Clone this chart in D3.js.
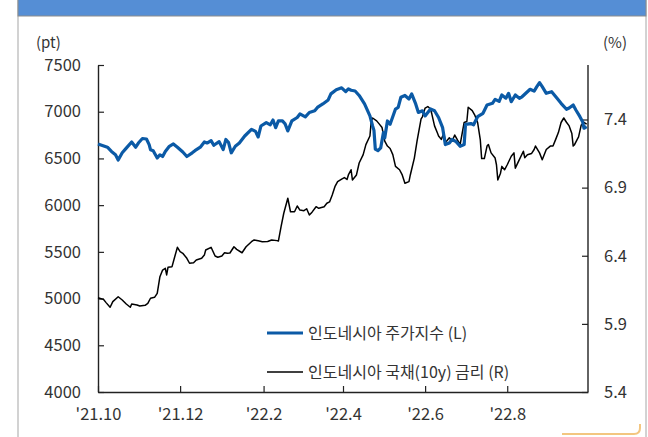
<!DOCTYPE html>
<html>
<head>
<meta charset="utf-8">
<script src="https://cdn.jsdelivr.net/npm/d3@7"></script>
<style>
  body { margin: 0; background: #fff; }
  svg { display: block; }
  text { font-family: "Noto Sans CJK KR", "Noto Sans", sans-serif; fill: #333; }
</style>
</head>
<body>
<div id="chart"></div>
<script>
// 인도네시아 주가지수 (L)
const stockDates = ["2021-10-01","2021-10-08","2021-10-11","2021-10-14","2021-10-16","2021-10-19","2021-10-22","2021-10-26","2021-10-29","2021-10-31",
  "2021-11-03","2021-11-06","2021-11-08","2021-11-09","2021-11-11","2021-11-14","2021-11-16","2021-11-18","2021-11-20","2021-11-23","2021-11-26","2021-11-29",
  "2021-12-03","2021-12-06","2021-12-10","2021-12-12","2021-12-16","2021-12-19","2021-12-21","2021-12-24","2021-12-26","2021-12-30",
  "2022-01-02","2022-01-04","2022-01-06","2022-01-08","2022-01-11","2022-01-14","2022-01-18","2022-01-23","2022-01-26","2022-01-28","2022-01-30",
  "2022-02-03","2022-02-06","2022-02-08","2022-02-10","2022-02-12","2022-02-15","2022-02-17","2022-02-19","2022-02-22","2022-02-26","2022-02-28",
  "2022-03-04","2022-03-07","2022-03-11","2022-03-13","2022-03-17","2022-03-21","2022-03-23","2022-03-27","2022-03-31",
  "2022-04-03","2022-04-05","2022-04-07","2022-04-10","2022-04-13","2022-04-17","2022-04-21","2022-04-23","2022-04-24","2022-04-25","2022-04-27","2022-04-29",
  "2022-05-01","2022-05-02","2022-05-04","2022-05-06","2022-05-10","2022-05-12","2022-05-14","2022-05-17","2022-05-20","2022-05-22","2022-05-25","2022-05-27","2022-05-30",
  "2022-06-01","2022-06-05","2022-06-08","2022-06-11","2022-06-14","2022-06-16","2022-06-19","2022-06-21","2022-06-24","2022-06-27","2022-06-30",
  "2022-07-01","2022-07-05","2022-07-07","2022-07-10","2022-07-14","2022-07-17","2022-07-21","2022-07-23","2022-07-26","2022-07-28","2022-07-31",
  "2022-08-02","2022-08-04","2022-08-07","2022-08-10","2022-08-12","2022-08-16","2022-08-18","2022-08-21","2022-08-23","2022-08-25","2022-08-27","2022-08-30",
  "2022-09-03","2022-09-07","2022-09-10","2022-09-14","2022-09-16","2022-09-19","2022-09-21","2022-09-24","2022-09-26","2022-09-27","2022-09-29"];
const stockValues = [6655,6620,6575,6540,6483,6560,6610,6676,6620,6665,
  6713,6708,6648,6594,6583,6505,6539,6521,6575,6630,6655,6620,
  6569,6521,6560,6583,6620,6676,6665,6691,6641,6680,
  6594,6703,6670,6560,6630,6665,6740,6811,6790,6730,6847,
  6884,6860,6911,6829,6901,6901,6870,6794,6901,6938,6976,
  6945,6992,7010,7046,7083,7126,7191,7235,7256,
  7215,7245,7230,7222,7174,7083,6955,6847,6800,6600,6583,6612,
  6775,6720,6901,6865,7029,7046,7155,7174,7136,7191,7083,6992,7010,
  6955,7029,7010,6938,6829,6648,6665,6703,6680,6630,6648,
  6865,6873,6860,6947,6983,7072,7090,7133,7110,7179,7145,
  7197,7107,7179,7143,7160,7214,7240,7220,7268,7311,7268,7197,
  7214,7143,7090,7026,7040,7072,7018,6947,6893,6823,6840];

// 인도네시아 국채(10y) 금리 (R)
const yieldDates = ["2021-10-01","2021-10-05","2021-10-07","2021-10-10","2021-10-12","2021-10-16","2021-10-19","2021-10-22","2021-10-25","2021-10-26","2021-10-30",
  "2021-11-01","2021-11-05","2021-11-07","2021-11-09","2021-11-12","2021-11-14","2021-11-16","2021-11-18","2021-11-20","2021-11-21","2021-11-22","2021-11-25","2021-11-27","2021-11-29",
  "2021-12-01","2021-12-03","2021-12-06","2021-12-08","2021-12-11","2021-12-13","2021-12-17","2021-12-19","2021-12-20","2021-12-24","2021-12-27","2021-12-29",
  "2022-01-01","2022-01-03","2022-01-05","2022-01-07","2022-01-10","2022-01-12","2022-01-16","2022-01-19","2022-01-23","2022-01-25","2022-01-28","2022-01-31",
  "2022-02-04","2022-02-07","2022-02-11","2022-02-12","2022-02-14","2022-02-16","2022-02-19","2022-02-21","2022-02-24","2022-02-26","2022-02-28",
  "2022-03-03","2022-03-05","2022-03-07","2022-03-09","2022-03-12","2022-03-14","2022-03-18","2022-03-20","2022-03-22","2022-03-24","2022-03-26","2022-03-28","2022-03-31",
  "2022-04-02","2022-04-04","2022-04-05","2022-04-07","2022-04-08","2022-04-11","2022-04-13","2022-04-16","2022-04-18","2022-04-21","2022-04-22","2022-04-23","2022-04-26","2022-04-28","2022-04-30",
  "2022-05-02","2022-05-04","2022-05-06","2022-05-08","2022-05-10","2022-05-13","2022-05-15","2022-05-17","2022-05-20","2022-05-21","2022-05-24","2022-05-26","2022-05-29","2022-05-30",
  "2022-06-01","2022-06-03","2022-06-05","2022-06-06","2022-06-08","2022-06-10","2022-06-11","2022-06-13","2022-06-15","2022-06-16","2022-06-19","2022-06-21","2022-06-23","2022-06-25","2022-06-27","2022-06-30",
  "2022-07-02","2022-07-03","2022-07-06","2022-07-08","2022-07-10","2022-07-12","2022-07-13","2022-07-15","2022-07-17","2022-07-18","2022-07-20","2022-07-23","2022-07-24","2022-07-25","2022-07-27","2022-07-28","2022-07-30",
  "2022-08-01","2022-08-04","2022-08-06","2022-08-07","2022-08-10","2022-08-13","2022-08-14","2022-08-16","2022-08-19","2022-08-21","2022-08-22","2022-08-25","2022-08-27","2022-08-30",
  "2022-09-02","2022-09-04","2022-09-06","2022-09-08","2022-09-10","2022-09-12","2022-09-14","2022-09-16","2022-09-18","2022-09-19","2022-09-20","2022-09-22","2022-09-23","2022-09-25","2022-09-27","2022-09-29"];
const yieldValues = [6.092,6.080,6.056,6.022,6.063,6.099,6.075,6.046,6.022,6.046,6.039,
  6.031,6.036,6.051,6.088,6.095,6.124,6.246,6.295,6.308,6.259,6.315,6.320,6.393,6.462,
  6.430,6.418,6.381,6.345,6.349,6.369,6.381,6.405,6.442,6.462,6.398,6.389,
  6.398,6.422,6.418,6.420,6.466,6.447,6.422,6.466,6.503,6.516,6.510,6.503,
  6.505,6.516,6.511,6.508,6.613,6.712,6.822,6.723,6.723,6.765,6.735,
  6.731,6.745,6.699,6.720,6.760,6.748,6.760,6.785,6.795,6.846,6.907,6.944,6.963,
  6.974,6.960,6.993,7.031,6.956,6.993,7.081,7.142,7.216,7.279,7.390,7.411,7.390,7.366,7.341,
  7.242,7.205,7.187,7.142,7.056,7.031,6.993,6.932,6.944,6.993,7.117,7.242,7.404,7.420,
  7.484,7.495,7.477,7.440,7.353,7.304,7.279,7.254,7.300,7.229,7.266,7.240,7.286,7.250,7.216,7.378,
  7.385,7.490,7.465,7.430,7.378,7.250,7.113,7.113,7.205,7.216,7.155,7.117,7.068,6.956,7.006,7.056,7.031,
  7.068,7.130,7.155,7.043,7.105,7.167,7.120,7.142,7.150,7.180,7.205,7.155,7.105,7.180,
  7.205,7.205,7.254,7.304,7.378,7.411,7.380,7.353,7.297,7.205,7.215,7.254,7.272,7.360,7.378,7.366];

const leftTicks = [4000,4500,5000,5500,6000,6500,7000,7500];
const rightTicks = [5.4,5.9,6.4,6.9,7.4];
const xTickDates = ["2021-10-01","2021-12-01","2022-02-01","2022-04-01","2022-06-01","2022-08-01"];
const xTickLabels = ["'21.10","'21.12","'22.2","'22.4","'22.6","'22.8"];
const legendLabels = ["인도네시아 주가지수 (L)","인도네시아 국채(10y) 금리 (R)"];

const W = 648, H = 437;
const plot = { left: 98, right: 588, top: 65, bottom: 392 };
const parse = d3.timeParse("%Y-%m-%d");

const svg = d3.select("#chart").append("svg")
    .attr("width", W)
    .attr("height", H);

// frame + header band
svg.append("rect")
    .attr("x", 18).attr("y", -2)
    .attr("width", 628).attr("height", H + 10)
    .attr("fill", "none")
    .attr("stroke", "#a6a6a6");
svg.append("rect")
    .attr("x", 18).attr("y", -2)
    .attr("width", 628).attr("height", 18)
    .attr("fill", "#558ed5")
    .attr("stroke", "#8c8c8c");

let x = d3.scaleTime()
    .domain([parse("2021-10-01"), parse("2022-09-30")])
    .range([plot.left, plot.right]);
let yL = d3.scaleLinear().domain([4000, 7500]).range([plot.bottom, plot.top]);
let yR = d3.scaleLinear().domain([5.4, 7.8]).range([plot.bottom, plot.top]);

// axes
let axL = svg.append("g")
    .attr("transform", "translate(" + plot.left + ",0)")
    .call(d3.axisLeft(yL).tickValues(leftTicks).tickSizeInner(-6).tickSizeOuter(0).tickPadding(17).tickFormat(d3.format("d")));
let axR = svg.append("g")
    .attr("transform", "translate(" + plot.right + ",0)")
    .call(d3.axisRight(yR).tickValues(rightTicks).tickSizeInner(-6).tickSizeOuter(0).tickPadding(16).tickFormat(d3.format(".1f")));
let axB = svg.append("g")
    .attr("transform", "translate(0," + plot.bottom + ")")
    .call(d3.axisBottom(x).tickValues(xTickDates.map(parse)).tickSizeInner(-6).tickSizeOuter(0).tickPadding(16)
        .tickFormat((d, i) => xTickLabels[i]));

[axL, axR, axB].forEach(a => {
    a.select(".domain").attr("stroke", "#222").attr("stroke-width", 1.4);
    a.selectAll(".tick line").attr("stroke", "#222").attr("stroke-width", 1.2);
    a.selectAll(".tick text")
        .style("font-family", "'Noto Sans CJK KR', 'Noto Sans', sans-serif")
        .style("font-size", "16.5px")
        .attr("fill", "#333");
});
axR.select(".domain").attr("d", "M0," + plot.top + "V" + plot.bottom);

// unit labels
svg.append("text").attr("x", 36).attr("y", 48).text("(pt)").style("font-size", "15px");
svg.append("text").attr("x", 603).attr("y", 48).text("(%)").style("font-size", "15px");

// series
const stock = stockDates.map((d, i) => ({ date: parse(d), value: stockValues[i] }));
const yld = yieldDates.map((d, i) => ({ date: parse(d), value: yieldValues[i] }));

svg.append("path")
    .datum(yld)
    .attr("fill", "none")
    .attr("stroke", "#000")
    .attr("stroke-width", 1.5)
    .attr("stroke-linejoin", "round")
    .attr("d", d3.line().x(d => x(d.date)).y(d => yR(d.value)));

svg.append("path")
    .datum(stock)
    .attr("fill", "none")
    .attr("stroke", "#0b5aa6")
    .attr("stroke-width", 3.2)
    .attr("stroke-linejoin", "round")
    .attr("d", d3.line().x(d => x(d.date)).y(d => yL(d.value)));

// legend
const legendColors = ["#0b5aa6", "#000"];
const legendWidths = [3, 1.5];
legendLabels.forEach((label, i) => {
    let ly = 333 + i * 39;
    svg.append("line")
        .attr("x1", 267).attr("x2", 303)
        .attr("y1", ly).attr("y2", ly)
        .attr("stroke", legendColors[i])
        .attr("stroke-width", legendWidths[i]);
    svg.append("text")
        .attr("x", 308).attr("y", ly + 6)
        .text(label)
        .style("font-size", "16px");
});

// small gold mark, bottom right corner
svg.append("path")
    .attr("d", "M562,434H634Q640,434 640,428V424")
    .attr("fill", "none")
    .attr("stroke", "#f0b860")
    .attr("stroke-width", 2)
    .attr("opacity", 0.8);
</script>
</body>
</html>
